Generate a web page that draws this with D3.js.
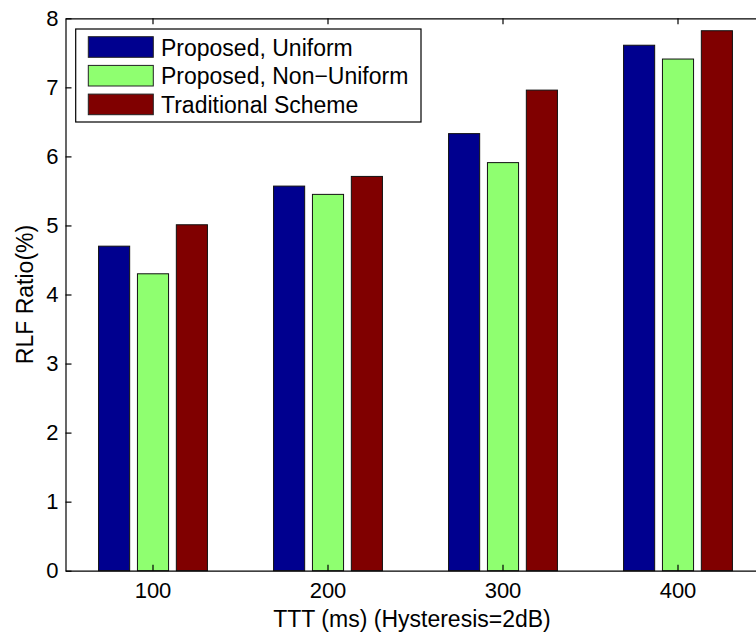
<!DOCTYPE html>
<html>
<head>
<meta charset="utf-8">
<script src="https://cdn.jsdelivr.net/npm/d3@7"></script>
<style>
  body { margin: 0; background: #fff; }
  svg { display: block; font-family: "Liberation Sans", Arial, sans-serif; }
</style>
</head>
<body>
<div id="chart"></div>
<script>
var categories = ["100", "200", "300", "400"];
var seriesNames = ["Proposed, Uniform", "Proposed, Non\u2212Uniform", "Traditional Scheme"];
var uniform = [4.70, 5.57, 6.33, 7.61];
var nonUniform = [4.30, 5.45, 5.91, 7.41];
var traditional = [5.01, 5.71, 6.96, 7.82];
var colors = ["#00008f", "#8fff70", "#800000"];
var yTicks = [0, 1, 2, 3, 4, 5, 6, 7, 8];

var width = 756, height = 635;
// plot box (right edge runs past the picture, as in the reference)
var plotL = 65.5, plotR = 765.5, plotT = 18.3, plotB = 570.7;

var svg = d3.select("#chart").append("svg")
    .attr("width", width)
    .attr("height", height);

var x0 = d3.scaleBand()
    .domain(categories)
    .range([plotL, plotR]);

var groupHalf = x0.bandwidth() / 3;
var x1 = d3.scaleBand()
    .domain(d3.range(seriesNames.length))
    .range([-groupHalf, groupHalf])
    .paddingInner(0.2)
    .paddingOuter(0.1);

var y = d3.scaleLinear()
    .domain([0, 8])
    .range([plotB, plotT]);

var series = [uniform, nonUniform, traditional];

// bars
var groups = svg.selectAll(".group")
    .data(categories)
    .enter().append("g")
    .attr("class", "group")
    .attr("transform", function (d) {
        return "translate(" + (x0(d) + x0.bandwidth() / 2) + ",0)";
    });

groups.selectAll("rect")
    .data(function (d, i) {
        return series.map(function (s, k) { return {k: k, v: s[i]}; });
    })
    .enter().append("rect")
    .attr("x", function (d) { return x1(d.k); })
    .attr("width", x1.bandwidth())
    .attr("y", function (d) { return y(d.v); })
    .attr("height", function (d) { return y(0) - y(d.v); })
    .attr("fill", function (d) { return colors[d.k]; })
    .attr("stroke", "#111")
    .attr("stroke-width", 1);

// axes, ticks pointing inward like matlab
var yAxis = d3.axisLeft(y)
    .tickValues(yTicks)
    .tickFormat(d3.format("d"))
    .tickSizeInner(-6)
    .tickSizeOuter(0)
    .tickPadding(7);

var xAxis = d3.axisBottom(x0)
    .tickSizeInner(-6)
    .tickSizeOuter(0)
    .tickPadding(12);

var xTop = d3.axisTop(x0)
    .tickSizeInner(-6)
    .tickSizeOuter(0)
    .tickFormat("");

var gy = svg.append("g")
    .attr("transform", "translate(" + plotL + ",0)")
    .call(yAxis);

var gx = svg.append("g")
    .attr("transform", "translate(0," + plotB + ")")
    .call(xAxis);

var gt = svg.append("g")
    .attr("transform", "translate(0," + plotT + ")")
    .call(xTop);

[gy, gx, gt].forEach(function (g) {
    g.selectAll("path, line").attr("stroke", "#000").attr("stroke-width", 1.2);
    g.selectAll("text").attr("fill", "#000").style("font-size", "22px");
});

// axis labels
svg.append("text")
    .attr("x", 412)
    .attr("y", 627)
    .attr("text-anchor", "middle")
    .style("font-size", "23px")
    .text("TTT (ms) (Hysteresis=2dB)");

svg.append("text")
    .attr("transform", "translate(33," + ((plotT + plotB) / 2) + ") rotate(-90)")
    .attr("text-anchor", "middle")
    .style("font-size", "23px")
    .text("RLF Ratio(%)");

// legend
var legend = svg.append("g");
legend.append("rect")
    .attr("x", 75.7)
    .attr("y", 29)
    .attr("width", 345.3)
    .attr("height", 93)
    .attr("fill", "#fff")
    .attr("stroke", "#000")
    .attr("stroke-width", 1.2);

var items = legend.selectAll(".item")
    .data(seriesNames)
    .enter().append("g")
    .attr("class", "item")
    .attr("transform", function (d, i) {
        return "translate(0," + (36.7 + i * 28.7) + ")";
    });

items.append("rect")
    .attr("x", 88.3)
    .attr("width", 65)
    .attr("height", 20.6)
    .attr("fill", function (d, i) { return colors[i]; })
    .attr("stroke", "#222")
    .attr("stroke-width", 1);

items.append("text")
    .attr("x", 161)
    .attr("y", 19)
    .style("font-size", "23px")
    .text(function (d) { return d; });
</script>
</body>
</html>
